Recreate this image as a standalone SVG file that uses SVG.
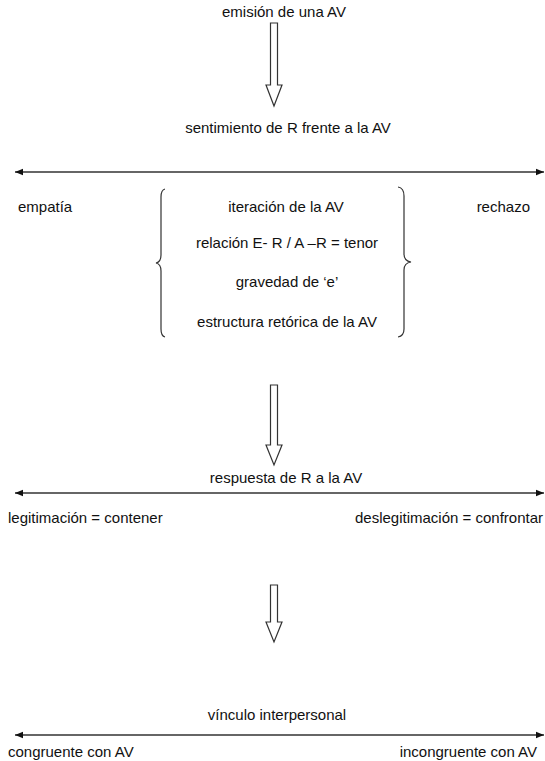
<svg xmlns="http://www.w3.org/2000/svg" width="545" height="761" viewBox="0 0 545 761">
<defs>
<style>
text{font-family:"Liberation Sans",Arial,sans-serif;font-size:15px;fill:#111}
.c{text-anchor:middle}
.e{text-anchor:end}
.h{stroke:#333;stroke-width:1.5;fill:none}
.ba{fill:#fff;stroke:#333;stroke-width:1.2}
.br{fill:none;stroke:#333;stroke-width:1.2}
</style>
<marker id="ah" viewBox="0 0 10 10" refX="10" refY="5" markerWidth="8" markerHeight="8" markerUnits="userSpaceOnUse" orient="auto-start-reverse">
<path d="M0,1 L10,5 L0,9 Z" fill="#111"/>
</marker>
</defs>
<rect width="545" height="761" fill="#fff"/>
<g id="connectors">
<path class="ba" d="M270.5,23 H277.5 V85 H282 L274,106 L266,85 H270.5 Z"/>
<line class="h" x1="15" y1="172" x2="544" y2="172" marker-start="url(#ah)" marker-end="url(#ah)"/>
<path class="ba" d="M270.5,385 H277.5 V445 H282 L274,465 L266,445 H270.5 Z"/>
<line class="h" x1="15" y1="493" x2="544" y2="493" marker-start="url(#ah)" marker-end="url(#ah)"/>
<path class="ba" d="M270.5,585 H277.5 V622 H282 L274,642 L266,622 H270.5 Z"/>
<line class="h" x1="15" y1="735" x2="544" y2="735" marker-start="url(#ah)" marker-end="url(#ah)"/>
</g>
<g id="n-emision"><text class="c" x="284" y="17">emisión de una AV</text></g>
<g id="n-sentimiento"><text class="c" x="288" y="133">sentimiento de R frente a la AV</text></g>
<g id="n-empatia"><text x="18" y="212">empatía</text></g>
<g id="n-rechazo"><text class="e" x="530" y="212">rechazo</text></g>
<g id="n-factores">
<path class="br" d="M165,189 Q161,190 161,197 V255 Q161,262 156,263 Q161,264 161,271 V329 Q161,336 165,337"/>
<path class="br" d="M398,187 Q404,188 404,196 V254 Q404,261 411,262 Q404,263 404,270 V329 Q404,336 398,337"/>
<text class="c" x="286" y="212">iteración de la AV</text>
<text class="c" x="287" y="248">relación E- R / A –R = tenor</text>
<text class="c" x="287" y="287">gravedad de ‘e’</text>
<text class="c" x="287" y="327">estructura retórica de la AV</text>
</g>
<g id="n-respuesta"><text class="c" x="286" y="483">respuesta de R a la AV</text></g>
<g id="n-legitimacion"><text x="8" y="523">legitimación = contener</text></g>
<g id="n-deslegitimacion"><text class="e" x="543" y="523">deslegitimación = confrontar</text></g>
<g id="n-vinculo"><text class="c" x="277" y="720">vínculo interpersonal</text></g>
<g id="n-congruente"><text x="8" y="757">congruente con AV</text></g>
<g id="n-incongruente"><text class="e" x="537" y="757">incongruente con AV</text></g>
</svg>
